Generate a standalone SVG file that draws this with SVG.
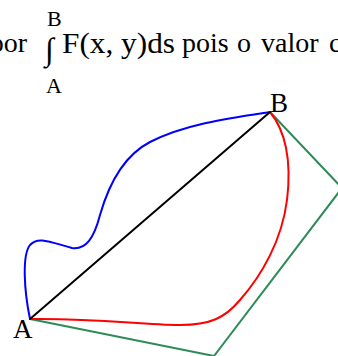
<svg xmlns="http://www.w3.org/2000/svg" width="338" height="356" viewBox="0 0 338 356">
<style>
text{font-family:"Liberation Serif","Times New Roman",serif;fill:#000}
.t{font-size:28px}
.s{font-size:22px}
.lbl{font-size:27px}
.c{fill:none;stroke-linejoin:round;stroke-linecap:round}
</style>
<rect width="338" height="356" fill="#fff"/>
<g id="formula">
<text class="t" x="27" y="52" text-anchor="end">por</text>
<text class="s" x="47" y="26">B</text>
<text x="45" y="60" font-size="32">∫</text>
<text x="62" y="53" font-size="30" textLength="113" lengthAdjust="spacingAndGlyphs">F(x, y)ds</text>
<text class="t" x="182" y="52">pois</text>
<text class="t" x="237" y="52">o</text>
<text class="t" x="261" y="52">valor</text>
<text class="t" x="329" y="52">c</text>
<text class="s" x="46" y="93">A</text>
</g>
<g id="connectors">
<path class="c" d="M30,319 L214,356 L342,188 L270,112" stroke="#2e8b57" stroke-width="2"/>
<path class="c" d="M30,319 C24,290 22,255 30,245 C38,236 50,242 72,248 C86,250 94,238 100,215 C110,180 125,155 150,142 C185,124 230,118 270,112" stroke="#0000ff" stroke-width="2"/>
<path class="c" d="M270,112 C285,130 292,160 287,200 C282,240 262,275 240,300 C225,318 210,325 180,325 C140,325 100,318 30,319" stroke="#ff0000" stroke-width="2"/>
<path class="c" d="M30,319 L270,112" stroke="#000" stroke-width="2"/>
</g>
<g id="node-A">
<text class="lbl" x="13" y="338">A</text>
</g>
<g id="node-B">
<text class="lbl" x="270" y="112">B</text>
</g>
</svg>
